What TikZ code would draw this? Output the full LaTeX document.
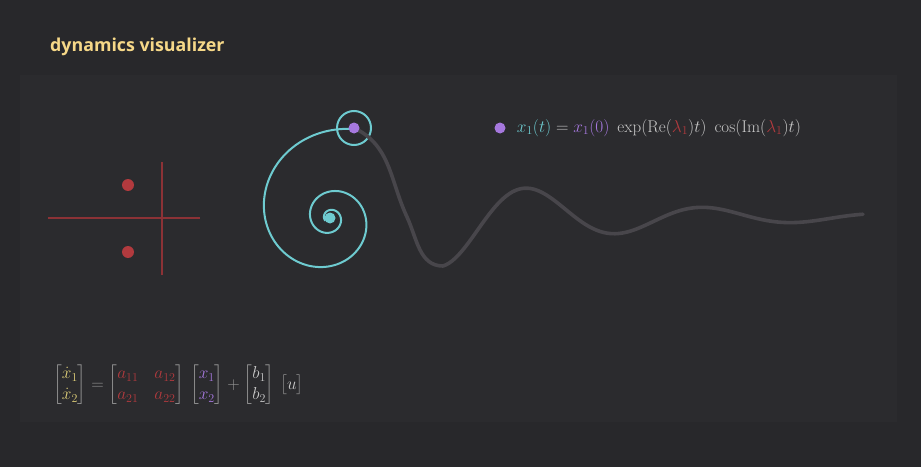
\documentclass[tikz,border=0pt]{standalone}
\usepackage{amsmath,amssymb}
\usepackage{fontspec}
\newfontfamily\titlefont{Open Sans}
\usepackage{tikz}
\usetikzlibrary{positioning,calc}
\definecolor{bgouter}{RGB}{40,40,43}
\definecolor{bginner}{RGB}{43,43,46}
\definecolor{ctitle}{RGB}{246,216,136}
\definecolor{cpole}{RGB}{178,58,62}
\definecolor{caxis}{RGB}{140,50,54}
\definecolor{cspiral}{RGB}{110,203,208}
\definecolor{cstate}{RGB}{166,120,222}
\definecolor{ctrace}{RGB}{72,70,75}
\definecolor{ctext}{RGB}{200,200,200}
\definecolor{cbrack}{RGB}{150,150,150}
\definecolor{cdot}{RGB}{222,206,120}
\tikzset{
  panel/.style={fill=bginner, draw=none},
  ttl/.style={font=\titlefont\bfseries\fontsize{17.8}{20}\selectfont, text=ctitle, inner sep=0pt},
  axisline/.style={caxis, line width=1.2pt},
  pole/.style={circle, fill=cpole, inner sep=0pt, minimum size=12pt},
  spiral/.style={cspiral, line width=2pt, line join=round},
  ring/.style={circle, draw=cspiral, line width=2pt, minimum size=34pt, inner sep=0pt},
  sdot/.style={circle, fill=cstate, inner sep=0pt, minimum size=11pt},
  cdot0/.style={circle, fill=cspiral, inner sep=0pt, minimum size=11pt},
  trace/.style={ctrace, line width=3.6pt, line cap=round, line join=round},
  eqn/.style={text=ctext, inner sep=0pt, font=\fontsize{17}{20}\selectfont},
  meqn/.style={inner sep=0pt, text=cbrack, font=\fontsize{16.5}{19}\selectfont},
}
\begin{document}
\begin{tikzpicture}[x=1pt, y=1pt]
  \fill[bgouter] (0,0) rectangle (921,467);
  \useasboundingbox (0,0) rectangle (921,467);
  \fill[panel] (20,45) rectangle (897,392);
  \node[ttl, anchor=base west] (title) at (50,415) {dynamics visualizer};
  % pole plot
  \coordinate (origin) at (162,249);
  \coordinate (reL) at (48,249); \coordinate (reR) at (200,249);
  \coordinate (imT) at (162,305); \coordinate (imB) at (162,192);
  \draw[axisline] (reL) -- (reR);
  \draw[axisline] (imT) -- (imB);
  \node[pole] (pole1) at (128,282) {};
  \node[pole] (pole2) at (128,215) {};
  % phase portrait
  \node[cdot0] (center) at (330,249) {};
  \draw[spiral] plot[domain=75:930, samples=320, smooth]
    ({330+92*exp(-0.19*(\x-75)*pi/180)*cos(\x)}, {249+92*exp(-0.19*(\x-75)*pi/180)*sin(\x)});
  \node[ring] (ring) at (354,339) {};
  % time response
  \coordinate (cross) at (407,250);
  \coordinate (firstmin) at (443,201);
  \draw[trace] (354,339) to[out=-25, in=115] (cross) to[out=-65, in=180] (firstmin)
    -- plot[domain=0:420, samples=140, smooth]
       ({443+\x}, {250-49*exp(-0.0062*\x)*cos(2.04545*\x)});
  \node[sdot] (state) at (354,339) {};
  % legend formula
  \node[sdot] (ldot) at (500,339) {};
  \node[eqn, anchor=west, right=11pt of ldot] (formula)
    {$\color{cspiral}x_1(t)\color{ctext} = {\color{cstate}x_1(0)}\ \exp(\mathrm{Re}({\color{cpole}\lambda_1})t)\ \cos(\mathrm{Im}({\color{cpole}\lambda_1})t)$};
  % state equation
  \node[meqn, anchor=west] (stateeq) at (53,82)
    {\renewcommand\arraystretch{1.12}\setlength\arraycolsep{8pt}$\begin{bmatrix}{\color{cdot}\dot{x}_1}\\ {\color{cdot}\dot{x}_2}\end{bmatrix}
     = \begin{bmatrix}{\color{cpole}a_{11}} & {\color{cpole}a_{12}}\\ {\color{cpole}a_{21}} & {\color{cpole}a_{22}}\end{bmatrix}
     \,\begin{bmatrix}{\color{cstate}x_1}\\ {\color{cstate}x_2}\end{bmatrix}
     + \begin{bmatrix}{\color{ctext}b_1}\\ {\color{ctext}b_2}\end{bmatrix}
     \,\begin{bmatrix}{\color{ctext}u}\end{bmatrix}$};
\end{tikzpicture}
\end{document}
